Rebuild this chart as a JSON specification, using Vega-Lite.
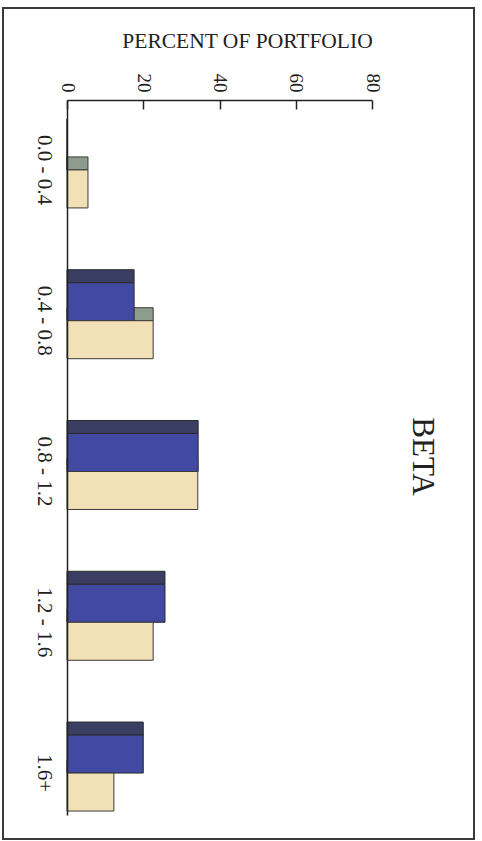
{
  "$schema": "https://vega.github.io/schema/vega-lite/v6.json",
  "width": 471,
  "height": 831,
  "autosize": {"type": "none"},
  "padding": {"left": 3, "top": 8, "right": 8, "bottom": 2},
  "background": "white",
  "config": {
    "view": {"stroke": "#3a3a3a", "strokeWidth": 2},
    "font": "Liberation Serif"
  },
  "data": {
    "values": [
      {"beta": "0.0 - 0.4", "series": "Series 1", "percent": 0},
      {"beta": "0.0 - 0.4", "series": "Series 2", "percent": 5.5},
      {"beta": "0.4 - 0.8", "series": "Series 1", "percent": 17.6},
      {"beta": "0.4 - 0.8", "series": "Series 2", "percent": 22.6},
      {"beta": "0.8 - 1.2", "series": "Series 1", "percent": 34.4},
      {"beta": "0.8 - 1.2", "series": "Series 2", "percent": 34.3},
      {"beta": "1.2 - 1.6", "series": "Series 1", "percent": 25.7},
      {"beta": "1.2 - 1.6", "series": "Series 2", "percent": 22.6},
      {"beta": "1.6+", "series": "Series 1", "percent": 20},
      {"beta": "1.6+", "series": "Series 2", "percent": 12.3}
    ]
  },
  "encoding": {
    "y": {
      "field": "beta",
      "type": "nominal",
      "sort": null,
      "scale": {"range": [92, 807], "paddingInner": 0.496, "paddingOuter": 0.119, "align": 0.89},
      "axis": {
        "orient": "left",
        "offset": -64,
        "ticks": false,
        "tickSize": 0,
        "labelAngle": 90,
        "labelAlign": "center",
        "labelBaseline": "top",
        "labelPadding": 13,
        "labelFontSize": 21,
        "labelColor": "#222222",
        "domainColor": "#222222",
        "domainWidth": 1.5,
        "labelOverlap": false,
        "labelBound": false,
        "title": "BETA",
        "titleAngle": 90,
        "titleX": 354,
        "titleY": 448,
        "titleFontSize": 31,
        "titleFontWeight": "normal",
        "titleAlign": "center",
        "titleBaseline": "middle",
        "titleColor": "#222222",
        "zindex": 1
      }
    },
    "x": {
      "field": "percent",
      "type": "quantitative",
      "scale": {"domain": [0, 80], "range": [64, 369], "nice": false, "zero": true},
      "axis": {
        "orient": "top",
        "offset": -92,
        "values": [0, 20, 40, 60, 80],
        "grid": false,
        "tickSize": -9,
        "tickColor": "#222222",
        "tickWidth": 1.5,
        "labelAngle": 90,
        "labelAlign": "right",
        "labelBaseline": "middle",
        "labelPadding": 17,
        "labelFontSize": 19,
        "labelFlush": false,
        "labelOverlap": false,
        "labelBound": false,
        "labelColor": "#222222",
        "domainColor": "#222222",
        "domainWidth": 1.5,
        "title": "PERCENT OF PORTFOLIO",
        "titleX": 244,
        "titleY": -59,
        "titleAlign": "center",
        "titleBaseline": "middle",
        "titleAngle": 0,
        "titleFontSize": 21.5,
        "titleFontWeight": "normal",
        "titleColor": "#222222",
        "zindex": 1
      }
    }
  },
  "layer": [
    {
      "transform": [{"filter": "datum.series === 'Series 2'"}],
      "mark": {"type": "bar", "height": 13, "yOffset": -6.5, "fill": "#8e9c8e", "stroke": "#3a3a3a", "strokeWidth": 1}
    },
    {
      "transform": [{"filter": "datum.series === 'Series 1'"}],
      "mark": {"type": "bar", "height": 13, "yOffset": -44.5, "fill": "#3b3e63", "stroke": "#2a2a2a", "strokeWidth": 1}
    },
    {
      "transform": [{"filter": "datum.series === 'Series 1'"}],
      "mark": {"type": "bar", "height": 38, "yOffset": -19, "fill": "#4149a3", "stroke": "#2a2a2a", "strokeWidth": 1}
    },
    {
      "transform": [{"filter": "datum.series === 'Series 2'"}],
      "mark": {"type": "bar", "height": 38, "yOffset": 19, "fill": "#f2e0b7", "stroke": "#3a3a3a", "strokeWidth": 1}
    }
  ]
}
